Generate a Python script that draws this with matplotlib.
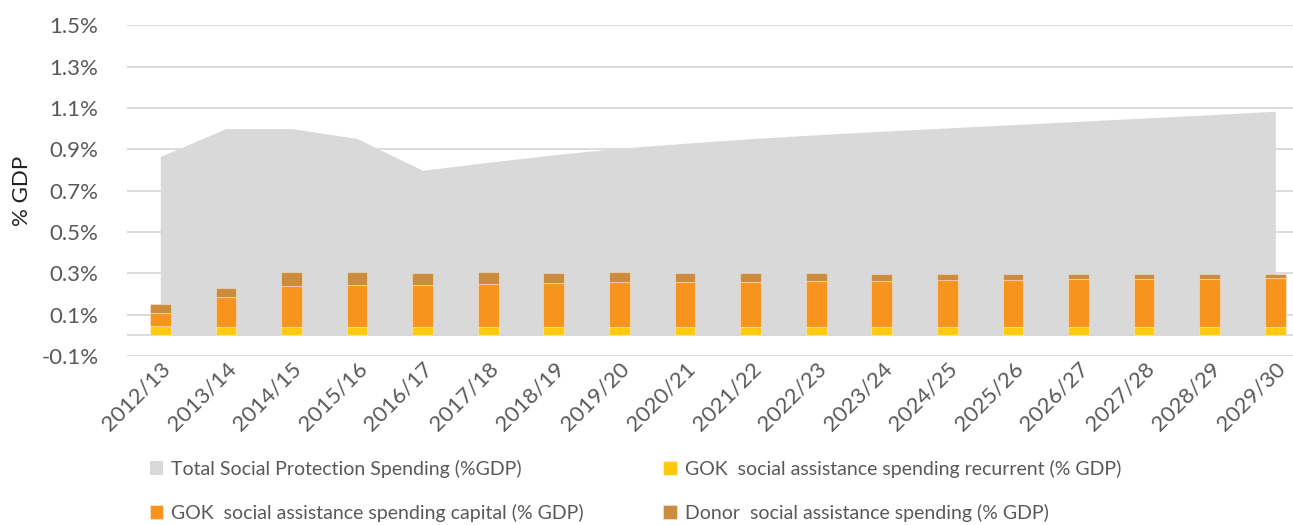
import numpy as np
import matplotlib.pyplot as plt

years = ['2012/13', '2013/14', '2014/15', '2015/16', '2016/17', '2017/18', '2018/19',
         '2019/20', '2020/21', '2021/22', '2022/23', '2023/24', '2024/25', '2025/26',
         '2026/27', '2027/28', '2028/29', '2029/30']

# values in % of GDP
total_sp = [0.865, 1.0, 1.0, 0.952, 0.798, 0.837, 0.873, 0.905, 0.929, 0.951,
            0.970, 0.987, 1.003, 1.019, 1.035, 1.051, 1.067, 1.084]
gok_recurrent = [0.045, 0.039, 0.039, 0.039, 0.039, 0.039, 0.039, 0.039, 0.039,
                 0.039, 0.039, 0.039, 0.039, 0.039, 0.039, 0.039, 0.039, 0.039]
gok_capital = [0.065, 0.145, 0.200, 0.206, 0.206, 0.211, 0.214, 0.217, 0.221,
               0.221, 0.224, 0.224, 0.226, 0.228, 0.232, 0.232, 0.233, 0.237]
donor = [0.039, 0.043, 0.069, 0.063, 0.056, 0.055, 0.050, 0.049, 0.040,
         0.040, 0.037, 0.034, 0.033, 0.031, 0.024, 0.024, 0.023, 0.019]

plt.rcParams['font.family'] = ['Lato', 'DejaVu Sans']
grey_txt = '#595959'

fig = plt.figure(figsize=(12.93, 5.25), dpi=100)
ax = fig.add_axes([0.0986, 0.322, 0.9014, 0.630])

x = np.arange(len(years))
rec = np.array(gok_recurrent)
cap = np.array(gok_capital)
don = np.array(donor)

area = ax.fill_between(x, 0, total_sp, color='#D9D9D9', lw=0, zorder=2,
                       label='Total Social Protection Spending (%GDP)')
edge = (1, 1, 1, 0.35)
w = 0.315
b1 = ax.bar(x, rec, w, color='#FFC90E', edgecolor=edge, lw=0.8, zorder=3,
            label='GOK  social assistance spending recurrent (% GDP)')
b2 = ax.bar(x, cap, w, bottom=rec, color='#F7941D', edgecolor=edge, lw=0.8, zorder=3,
            label='GOK  social assistance spending capital (% GDP)')
b3 = ax.bar(x, don, w, bottom=rec + cap, color='#CD8B3E', edgecolor=edge, lw=0.8, zorder=3,
            label='Donor  social assistance spending (% GDP)')

ax.axhline(0, color='#D9D9D9', lw=1.3, zorder=1)
ax.set_ylim(-0.1, 1.5)
ax.set_xlim(-0.5, 17.27)
ticks = np.arange(-0.1, 1.51, 0.2)
ax.set_yticks(ticks)
ax.set_yticklabels(['%.1f%%' % t for t in ticks])
ax.yaxis.grid(True, color='#D9D9D9', lw=1.3, zorder=0)
ax.set_axisbelow(True)
for s in ax.spines.values():
    s.set_visible(False)
ax.tick_params(axis='both', length=0, labelsize=16, colors=grey_txt)
ax.tick_params(axis='y', pad=21)
ax.set_xticks(x)
ax.set_xticklabels(years, rotation=45, ha='right', rotation_mode='anchor')
ax.tick_params(axis='x', pad=2)

ax.set_ylabel('% GDP', fontsize=16, color='#222222')
ax.yaxis.set_label_coords(-0.082, 0.5)

handles = [area, b2, b1, b3]
leg = ax.legend(handles=handles, labels=[h.get_label() for h in handles], ncol=2,
                loc='upper left', bbox_to_anchor=(0.004, -0.26), frameon=False,
                fontsize=14, handlelength=0.7, handleheight=0.7, handletextpad=0.4,
                columnspacing=4.1, labelspacing=1.35, labelcolor=grey_txt)

fig.savefig('out.png', dpi=100)
